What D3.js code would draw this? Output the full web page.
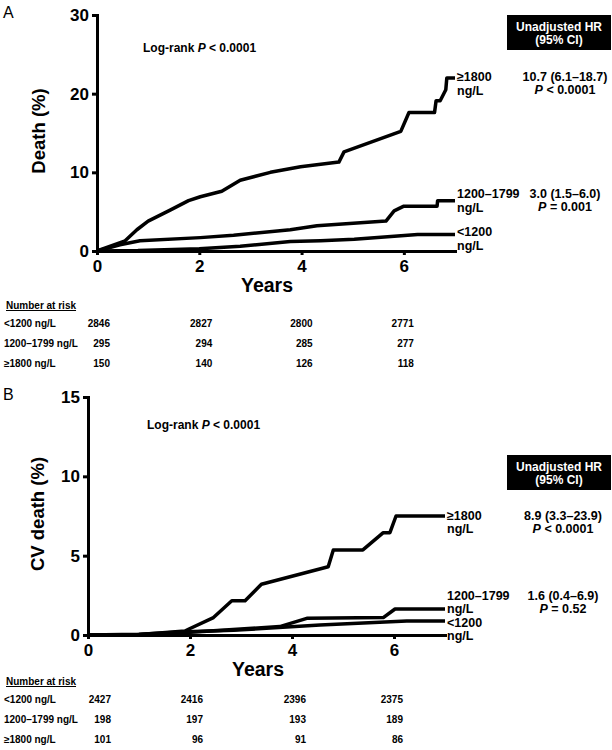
<!DOCTYPE html>
<html>
<head>
<meta charset="utf-8">
<style>
  body { margin: 0; background: #fff; }
  svg { display: block; font-family: "Liberation Sans", Arial, sans-serif; }
  .axis path, .axis line { stroke: #000; stroke-width: 3px; }
  .axis text { font-size: 17px; font-weight: bold; fill: #000; font-family: "Liberation Sans", Arial, sans-serif; }
  .curve { fill: none; stroke: #000; stroke-width: 3.5px; stroke-linejoin: round; }
  .b { font-weight: bold; }
</style>
</head>
<body>
<svg width="612" height="750"></svg>
<script src="https://cdnjs.cloudflare.com/ajax/libs/d3/7.8.5/d3.min.js"></script>
<script>
var xTicks = [0, 2, 4, 6];
var groupNames = ["<1200 ng/L", "1200–1799 ng/L", "≥1800 ng/L"];
var curveLabels = [["<1200", "ng/L"], ["1200–1799", "ng/L"], ["≥1800", "ng/L"]];

// panel A, death (%) by year
var deathLow = [[0,0],[0.8,0.05],[2.0,0.3],[2.8,0.6],[3.78,1.2],[4.37,1.3],[5.03,1.5],[6.27,2.1],[7.0,2.1]];
var deathMid = [[0,0],[0.45,0.8],[0.84,1.3],[2.02,1.7],[2.67,2.0],[3.78,2.7],[4.3,3.2],[5.65,3.8],[5.81,5.1],[6.0,5.7],[6.65,5.7],[6.66,6.4],[7.0,6.4]];
var deathHigh = [[0,0],[0.55,1.3],[0.78,2.7],[1.0,3.8],[1.43,5.2],[1.79,6.4],[2.02,6.9],[2.44,7.6],[2.8,9.0],[3.39,10.0],[3.98,10.7],[4.73,11.3],[4.83,12.6],[5.94,15.2],[6.1,17.6],[6.6,17.6],[6.63,19.1],[6.71,19.1],[6.82,20.5],[6.84,22.0],[7.0,22.0]];
var riskDeath = [[2846, 2827, 2800, 2771], [295, 294, 285, 277], [150, 140, 126, 118]];
var hrDeath = [null, ["3.0 (1.5–6.0)", " = 0.001"], ["10.7 (6.1–18.7)", " < 0.0001"]];

// panel B, CV death (%) by year
var cvLow = [[0,0],[1.0,0.05],[1.93,0.2],[2.85,0.3],[4.55,0.63],[6.25,0.88],[7.0,0.88]];
var cvMid = [[0,0],[0.9,0],[1.93,0.15],[3.76,0.53],[4.29,1.05],[5.79,1.1],[6.02,1.64],[7.0,1.64]];
var cvHigh = [[0,0],[0.9,0],[1.9,0.25],[1.97,0.36],[2.46,1.1],[2.82,2.16],[3.08,2.16],[3.4,3.2],[4.71,4.3],[4.81,5.36],[5.39,5.36],[5.79,6.45],[5.92,6.45],[6.04,7.5],[7.0,7.5]];
var riskCV = [[2427, 2416, 2396, 2375], [198, 197, 193, 189], [101, 96, 91, 86]];
var hrCV = [null, ["1.6 (0.4–6.9)", " = 0.52"], ["8.9 (3.3–23.9)", " < 0.0001"]];

var panels = [
  {letter: "A", letterY: 18, x0: 97, x1: 455, yTop: 15, yBot: 251, yMax: 30, yTicks: [0, 10, 20, 30],
   yLabel: "Death (%)", yLabelX: 38, curves: [deathLow, deathMid, deathHigh], risk: riskDeath, hr: hrDeath,
   labelDy: [[2, 16], [-3, 11], [3, 17]], logrank: [143, 52], boxY: 15, hrX: 565,
   riskTop: 309, riskDx: [13, 13, 11, 10]},
  {letter: "B", letterY: 400, x0: 88, x1: 445, yTop: 397, yBot: 635, yMax: 15, yTicks: [0, 5, 10, 15],
   yLabel: "CV death (%)", yLabelX: 37, curves: [cvLow, cvMid, cvHigh], risk: riskCV, hr: hrCV,
   labelDy: [[5.5, 19], [-9, 4.5], [3.5, 17]], logrank: [147, 429], boxY: 455, hrX: 563,
   riskTop: 685, riskDx: [23, 13, 14, 9]}
];

var svg = d3.select("svg");

panels.forEach(function(p) {
  var x = d3.scaleLinear().domain([0, 7]).range([p.x0, p.x1]);
  var y = d3.scaleLinear().domain([0, p.yMax]).range([p.yBot, p.yTop]);
  var g = svg.append("g");

  g.append("text").attr("x", 3).attr("y", p.letterY)
    .style("font-size", "16px").text(p.letter);

  g.append("g").attr("class", "axis")
    .attr("transform", "translate(0," + p.yBot + ")")
    .call(d3.axisBottom(x).tickValues(xTicks).tickFormat(d3.format("d"))
      .tickSize(4).tickSizeOuter(0).tickPadding(5));

  g.append("g").attr("class", "axis")
    .attr("transform", "translate(" + p.x0 + ",0)")
    .call(d3.axisLeft(y).tickValues(p.yTicks).tickSize(5).tickSizeOuter(0).tickPadding(3));

  g.selectAll(".axis path").attr("stroke-linecap", "square");

  g.append("text").attr("class", "b")
    .attr("transform", "translate(" + p.yLabelX + "," + ((p.yTop + p.yBot) / 2 - 2) + ") rotate(-90)")
    .attr("text-anchor", "middle").attr("dominant-baseline", "central")
    .style("font-size", "18.5px").text(p.yLabel);

  g.append("text").attr("class", "b")
    .attr("x", p.x0 + 170).attr("y", p.yBot + 41)
    .attr("text-anchor", "middle").style("font-size", "19.5px").text("Years");

  var line = d3.line().x(function(d) { return x(d[0]); }).y(function(d) { return y(d[1]); });
  g.selectAll(".curve").data(p.curves).enter().append("path")
    .attr("class", "curve").attr("d", line);

  // labels at the end of each curve, HR text beside them
  p.curves.forEach(function(c, i) {
    var yEnd = y(c[c.length - 1][1]);
    var t = g.append("text").attr("class", "b").style("font-size", "12.5px");
    t.append("tspan").attr("x", x(7) + 2).attr("y", yEnd + p.labelDy[i][0]).text(curveLabels[i][0]);
    t.append("tspan").attr("x", x(7) + 2).attr("y", yEnd + p.labelDy[i][1]).text(curveLabels[i][1]);
    if (p.hr[i]) {
      g.append("text").attr("class", "b").attr("text-anchor", "middle")
        .attr("x", p.hrX).attr("y", yEnd + p.labelDy[i][0])
        .style("font-size", "12.5px").text(p.hr[i][0]);
      var pt = g.append("text").attr("class", "b").attr("text-anchor", "middle")
        .attr("x", p.hrX).attr("y", yEnd + p.labelDy[i][0] + 13.5).style("font-size", "12.5px");
      pt.append("tspan").style("font-style", "italic").text("P");
      pt.append("tspan").text(p.hr[i][1]);
    }
  });

  var lr = g.append("text").attr("class", "b").attr("x", p.logrank[0]).attr("y", p.logrank[1])
    .style("font-size", "12px");
  lr.append("tspan").text("Log-rank ");
  lr.append("tspan").style("font-style", "italic").text("P");
  lr.append("tspan").text(" < 0.0001");

  g.append("rect").attr("x", 507).attr("y", p.boxY).attr("width", 104).attr("height", 35).attr("fill", "#000");
  g.append("text").attr("class", "b").attr("x", 559).attr("y", p.boxY + 15.5)
    .attr("text-anchor", "middle").attr("fill", "#fff").style("font-size", "12px").text("Unadjusted HR");
  g.append("text").attr("class", "b").attr("x", 559).attr("y", p.boxY + 29)
    .attr("text-anchor", "middle").attr("fill", "#fff").style("font-size", "12px").text("(95% CI)");

  // number at risk table
  g.append("text").attr("class", "b").attr("x", 6).attr("y", p.riskTop)
    .style("font-size", "10px").style("text-decoration", "underline").text("Number at risk");
  p.risk.forEach(function(row, r) {
    var ry = p.riskTop + 17.5 + r * 20;
    g.append("text").attr("class", "b").attr("x", 4).attr("y", ry)
      .style("font-size", "10px").text(groupNames[r]);
    g.selectAll(null).data(row).enter().append("text").attr("class", "b")
      .attr("x", function(d, k) { return x(xTicks[k]) + p.riskDx[k]; })
      .attr("y", ry).attr("text-anchor", "end").style("font-size", "10px")
      .text(function(d) { return d; });
  });
});
</script>
</body>
</html>
